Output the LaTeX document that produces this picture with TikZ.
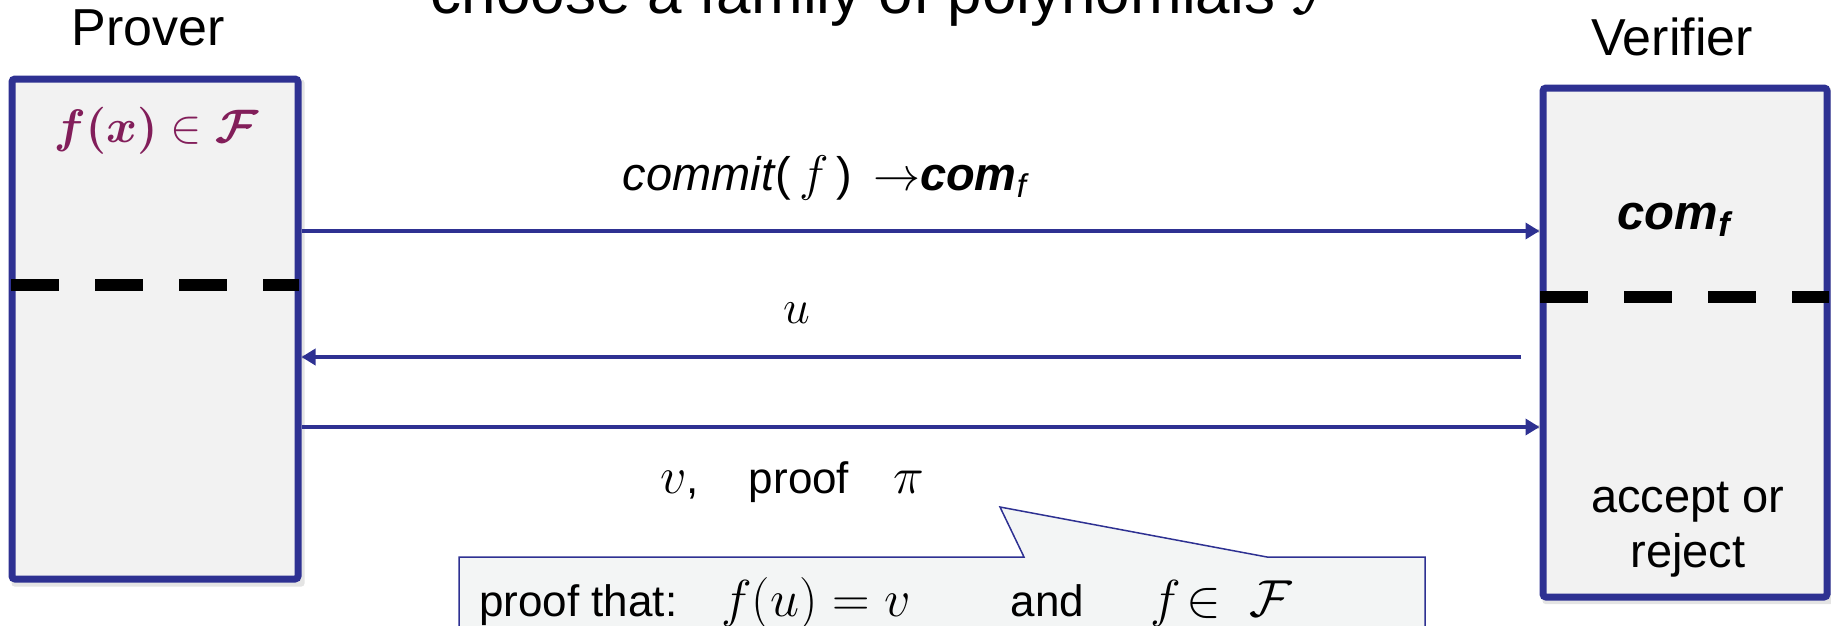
\RequirePackage{fix-cm}
\documentclass[tikz,border=0pt]{standalone}
\usepackage{amsmath,bm}
\usepackage{fontspec}
\setmainfont{Liberation Sans}
\usetikzlibrary{arrows.meta}
\definecolor{bbl}{RGB}{46,49,146}
\definecolor{pur}{RGB}{130,30,90}
\definecolor{boxgray}{RGB}{242,242,242}
\definecolor{callfill}{RGB}{243,245,245}
\newcommand{\fsz}[1]{\fontsize{#1}{#1}\selectfont}
\tikzset{
 party/.style={draw=bbl, line width=7pt, fill=boxgray, rounded corners=3pt, inner sep=0pt},
 partyshadow/.style={fill=black!30, opacity=0.35, rounded corners=3pt, inner sep=0pt},
 msg/.style={draw=bbl, line width=4pt, -{Triangle[length=14pt,width=16pt]}},
 msgshadow/.style={draw=black!30, line width=4pt, opacity=0.5, yshift=-3pt},
 dashline/.style={draw=black, line width=12pt, dash pattern=on 48pt off 36pt},
 lbl/.style={inner sep=0pt, anchor=base},
}
\begin{document}
\begin{tikzpicture}[x=1pt,y=-1pt]
\useasboundingbox (0,0) rectangle (1831,625);
\clip (0,0) rectangle (1831,625);
% title (cut off at the top)
\node[lbl, font=\fsz{62}] (title) at (887,13) {choose a family of polynomials $\mathcal{F}$};
% party labels
\node[lbl, font=\fsz{52}] (plabel) at (148,45) {Prover};
\node[lbl, font=\fsz{52}] (vlabel) at (1672,55) {Verifier};
% shadows of boxes
\node[partyshadow, minimum width=293pt, minimum height=507pt] at (158,333) {};
\node[partyshadow, minimum width=291pt, minimum height=516pt] at (1688,346) {};
% boxes
\node[party, minimum width=286pt, minimum height=500pt] (prover) at (155,329) {};
\node[party, minimum width=284pt, minimum height=509pt] (verifier) at (1685,342.5) {};
% dashed separators
\draw[dashline] (11,285) -- (299,285);
\draw[dashline] (1540,297) -- (1829,297);
% box contents
\node[lbl, text=pur, font=\fsz{47}] (fx) at (156,142) {$\bm{f(x)}\in\bm{\mathcal{F}}$};
\node[lbl, font=\fsz{49}\bfseries\itshape] (comv) at (1674,229) {com\textsubscript{f}};
\node[lbl, align=center, font=\fsz{47}] (acc) at (1688,567) {accept or\\[8pt]reject};
% messages
\coordinate (r1) at (0,231);
\coordinate (r2) at (1521,357);
\coordinate (r3) at (0,427);
\draw[msgshadow] (prover.east |- r1) -- (verifier.west |- r1);
\draw[msgshadow] (r2) -- (prover.east |- r2);
\draw[msgshadow] (prover.east |- r3) -- (verifier.west |- r3);
\draw[msg] (prover.east |- r1) -- (verifier.west |- r1);
\draw[msg] (r2) -- (prover.east |- r2);
\draw[msg] (prover.east |- r3) -- (verifier.west |- r3);
% message labels
\node[lbl, font=\fsz{47}] (m1) at (826,190) {\textit{commit}(\,{\fsz{50}$f$}\,)\, $\rightarrow$\textbf{\textit{com}}\textsubscript{\textit{f}}};
\node[lbl, font=\fsz{48}] (m2) at (797,323) {$u$};
\node[inner sep=0pt, anchor=base west, font=\fsz{44}] (m3) at (660,493) {{\fsz{52}$v$},\hspace{50pt}proof\hspace{44pt}{\fsz{52}$\pi$}};
% callout
\draw[draw=bbl, line width=1.5pt, fill=callfill] (459,640) -- (459,557) -- (1024,557) -- (1000,507) -- (1267,557) -- (1425,557) -- (1425,640);
\node[inner sep=0pt, anchor=base west, font=\fsz{44}] (proofnote) at (479,616) {proof that:\hspace{44pt}{\fsz{52}$f(u)=v$}\hspace{100pt}and\hspace{66pt}{\fsz{52}$f\!\in\;\mathcal{F}$}};
\end{tikzpicture}
\end{document}
